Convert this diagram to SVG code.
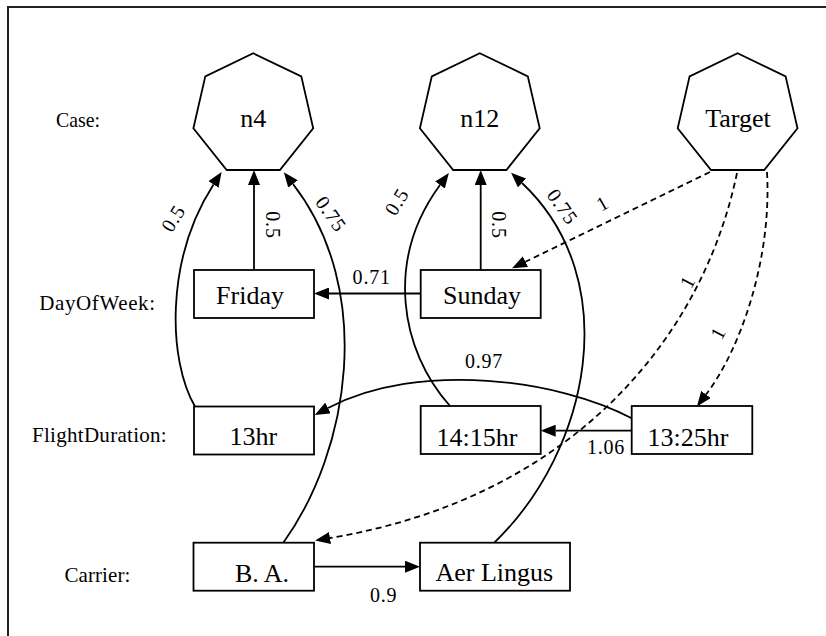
<svg xmlns="http://www.w3.org/2000/svg" width="826" height="636" viewBox="0 0 826 636">
<style>
.frame{fill:none;stroke:#222;stroke-width:2}
.shape{fill:#fff;stroke:#000;stroke-width:1.8}
.edge{fill:none;stroke:#000;stroke-width:1.8}
.dash{stroke-dasharray:6,4}
.nl{font-family:"Liberation Serif","Times New Roman",serif;font-size:26px;fill:#000;text-anchor:middle}
.el{font-family:"Liberation Serif","Times New Roman",serif;font-size:20px;letter-spacing:0.8px;fill:#000;text-anchor:middle}
.rl{font-family:"Liberation Serif","Times New Roman",serif;font-size:21px;fill:#000}
</style>
<defs>
<marker id="ah" viewBox="0 0 15 12" refX="0" refY="6" markerWidth="15" markerHeight="12" markerUnits="userSpaceOnUse" orient="auto">
<path d="M0,0 L15,6 L0,12 z" fill="#000"/>
</marker>
</defs>
<rect width="826" height="636" fill="#fff"/>
<path class="frame" d="M8,636 L8,7 L826,7"/>

<g id="row-labels">
<text class="rl" x="56" y="126.7" textLength="44" lengthAdjust="spacingAndGlyphs">Case:</text>
<text class="rl" x="39.3" y="310" textLength="115.7" lengthAdjust="spacing">DayOfWeek:</text>
<text class="rl" x="32" y="441.7" textLength="134.7" lengthAdjust="spacing">FlightDuration:</text>
<text class="rl" x="64.4" y="581.7" textLength="66" lengthAdjust="spacing">Carrier:</text>
</g>

<g id="connectors">
<path class="edge" marker-end="url(#ah)" d="M254,270 L254,185"/>
<path class="edge" marker-end="url(#ah)" d="M480.7,270 L480.7,185"/>
<path class="edge" marker-end="url(#ah)" d="M420.7,293.5 L329,293.5"/>
<path class="edge" marker-end="url(#ah)" d="M195,406.5 C168,360 165,260 213.5,184.5"/>
<path class="edge" marker-end="url(#ah)" d="M283.3,542.7 C350,450 375,290 293,184"/>
<path class="edge" marker-end="url(#ah)" d="M450,406 C400,350 385,260 440,185"/>
<path class="edge" marker-end="url(#ah)" d="M494.3,542.7 C590,450 625,280 522,183"/>
<path class="edge dash" marker-end="url(#ah)" d="M710,172 L525.5,261.7"/>
<path class="edge dash" marker-end="url(#ah)" d="M767,172 C772,260 740,350 706,394.5"/>
<path class="edge dash" marker-end="url(#ah)" d="M737,173 C700,350 560,500 330,538"/>
<path class="edge" marker-end="url(#ah)" d="M631.7,418.3 C560,380 420,360 328,408"/>
<path class="edge" marker-end="url(#ah)" d="M631.7,430.7 L555.7,430.7"/>
<path class="edge" marker-end="url(#ah)" d="M314,566.7 L405,566.7"/>
<text class="el" x="371.7" y="284.3">0.71</text>
<text class="el" x="484" y="368.3">0.97</text>
<text class="el" x="606" y="454">1.06</text>
<text class="el" x="383.7" y="601.7">0.9</text>
<text class="el" transform="translate(272.5,225) rotate(90)" x="0" y="6.8">0.5</text>
<text class="el" transform="translate(498.5,225) rotate(90)" x="0" y="6.8">0.5</text>
<text class="el" transform="translate(173.3,218.3) rotate(-58)" x="0" y="6.8">0.5</text>
<text class="el" transform="translate(396.7,201.7) rotate(-58)" x="0" y="6.8">0.5</text>
<text class="el" transform="translate(331,214) rotate(55)" x="0" y="6.8">0.75</text>
<text class="el" transform="translate(562.5,206.7) rotate(55)" x="0" y="6.8">0.75</text>
<text class="el" transform="translate(602.5,203.3) rotate(-30)" x="0" y="6.8">1</text>
<text class="el" transform="translate(687.5,281.7) rotate(-62)" x="0" y="6.8">1</text>
<text class="el" transform="translate(718,333) rotate(-62)" x="0" y="6.8">1</text>
</g>

<g id="n4">
<polygon class="shape" points="253.3,53.3 301.3,76.4 313.2,128.4 279.9,170 226.7,170 193.4,128.4 205.3,76.4"/>
<text class="nl" x="253.3" y="127">n4</text>
</g>
<g id="n12">
<polygon class="shape" points="479.8,53.3 527.8,76.4 539.7,128.4 506.4,170 453.2,170 419.9,128.4 431.8,76.4"/>
<text class="nl" x="479.8" y="127">n12</text>
</g>
<g id="Target">
<polygon class="shape" points="737.6,53.3 785.6,76.4 797.5,128.4 764.2,170 711,170 677.7,128.4 689.6,76.4"/>
<text class="nl" x="738" y="127">Target</text>
</g>
<g id="Friday">
<rect class="shape" x="194" y="270" width="120" height="48"/>
<text class="nl" x="250" y="304">Friday</text>
</g>
<g id="Sunday">
<rect class="shape" x="420.7" y="270" width="120" height="48"/>
<text class="nl" x="482" y="304">Sunday</text>
</g>
<g id="d13hr">
<rect class="shape" x="194" y="406.5" width="120" height="48"/>
<text class="nl" x="253.3" y="445">13hr</text>
</g>
<g id="d1415hr">
<rect class="shape" x="420.7" y="406" width="120" height="48"/>
<text class="nl" x="477" y="446">14:15hr</text>
</g>
<g id="d1325hr">
<rect class="shape" x="631.7" y="406" width="120.6" height="48"/>
<text class="nl" x="688" y="446">13:25hr</text>
</g>
<g id="BA">
<rect class="shape" x="193.5" y="542.7" width="120.5" height="48"/>
<text class="nl" x="262" y="581.7">B. A.</text>
</g>
<g id="AerLingus">
<rect class="shape" x="420" y="542.7" width="150" height="48"/>
<text class="nl" x="494.3" y="581">Aer Lingus</text>
</g>
</svg>
